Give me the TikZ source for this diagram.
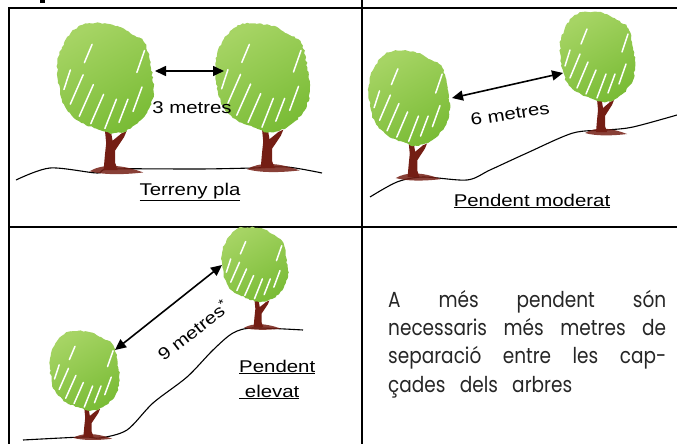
\documentclass[tikz,border=0pt]{standalone}
\usepackage{fontspec}
\setmainfont{Liberation Sans}
\newfontfamily\gothic{Poppins}
\usepackage{tikz}
\usetikzlibrary{arrows.meta,decorations.pathmorphing,positioning,calc}

\definecolor{leaflt}{RGB}{166,212,100}
\definecolor{leafdk}{RGB}{122,188,54}
\definecolor{bark}{RGB}{116,30,20}

\tikzset{
  pics/tree/.style={code={
    \fill[bark] (-5,0) -- (-4,-12) -- (-3,-22) -- (-4,-33) -- (0,-36) -- (2,-24) -- (9,-30) -- (13,-32) -- (11,-27) -- (4,-16) -- (4,-6) -- (6,0) -- cycle;
    \fill[bark,opacity=.85] (-16,1) .. controls (-6,-5) and (8,-5) .. (26,2) .. controls (10,4) and (-6,4) .. (-16,1) -- cycle;
    \shade[top color=leaflt,bottom color=leafdk,shading angle=30,decorate,decoration={random steps,segment length=2.5pt,amplitude=.8pt}]
      plot[smooth cycle,tension=.6] coordinates {(-28,-115) (-18,-120) (2,-119) (16,-112) (27,-104) (32,-84) (34,-64) (29,-47) (16,-34) (2,-30) (-11,-34) (-24,-40) (-34,-50) (-39,-64) (-41,-87) (-36,-104)};
    \foreach \xa/\ya/\xb/\yb in {-31/-54/-21/-78,-24/-44/-13/-70,-15/-38/-5/-62,-4/-34/5/-58,7/-39/14/-58,18/-48/25/-68,21/-80/27/-98,-20/-88/-14/-103,-36/-66/-31/-82}
      \draw[white,line width=1.5pt,line cap=round] (\xa,\ya) -- (\xb,\yb);
  }},
  gap/.style={{Triangle[length=11pt,width=10pt]}-{Triangle[length=11pt,width=10pt]},line width=1.6pt},
  lbl/.style={font=\fontsize{17}{20}\selectfont,xscale=1.2,transform shape},
  para/.style={anchor=base west,inner sep=0pt,font=\gothic\fontsize{18.5}{23}\selectfont,color=black!85,yscale=1.18,transform shape}
}

\begin{document}
\begin{tikzpicture}[x=1pt,y=-1pt]
\useasboundingbox (0,0) rectangle (677,444);
\pgfmathsetseed{7}
\fill (40,0) rectangle (45,3);
\draw[line width=1.6pt] (9,444) -- (9,8) -- (677,8);
\draw[line width=1.6pt] (362,0) -- (362,444);
\draw[line width=1.6pt] (9,227) -- (677,227);

\draw[line width=1.1pt] plot[smooth] coordinates {(16,180) (50,168) (97,173) (110,169) (200,169) (253,168) (287,167) (322,173)};
\draw[line width=1.1pt] plot[smooth] coordinates {(370,197) (397,182) (423,177) (467,180) (490,170) (527,153) (573,133) (607,130) (633,127) (677,115)};
\draw[line width=1.1pt] plot[smooth] coordinates {(23,440) (83,437) (100,438) (127,430) (153,403) (187,377) (213,350) (233,333) (253,328) (303,330)};

\pic[xscale=1.28,yscale=1.22] at (110,170) {tree};
\pic[xscale=1.26,yscale=1.2] at (267,168) {tree};
\pic[xscale=1.08,yscale=1.05] at (413,177) {tree};
\pic at (601,132) {tree};
\pic[xscale=.93,yscale=.88] at (88,437) {tree};
\pic[xscale=.88,yscale=.83] at (258,327) {tree};

\coordinate (p1a) at (155,71);
\coordinate (p1b) at (224,71);
\coordinate (p2a) at (452,98);
\coordinate (p2b) at (563,73);
\coordinate (p3a) at (115,350);
\coordinate (p3b) at (222,265);
\draw[gap] (p1a) -- (p1b);
\draw[gap] (p2a) -- (p2b);
\draw[gap] (p3a) -- (p3b);

\node[lbl] (tres) at (192,108) {3 metres};
\node[lbl] (pla) at (190,192) {\underline{Terreny pla}};
\node[rotate=9,lbl] (sis) at (510,114) {6 metres};
\node[lbl] (moderat) at (532,201) {\underline{Pendent moderat}};
\node[rotate=38,lbl] (nou) at (193,330) {9 metres\textsuperscript{*}};
\node[lbl,anchor=base west,align=left] (elevat) at (235,397) {\underline{Pendent}\\[5pt]\underline{\ elevat}};

\node[para] (l1) at (388,307) {\makebox[278pt][s]{A més pendent són}};
\node[para] (l2) at (388,335) {\makebox[278pt][s]{necessaris més metres de}};
\node[para] (l3) at (388,363) {\makebox[278pt][s]{separació entre les cap-}};
\node[para] (l4) at (388,392) {\makebox[184pt][s]{çades dels arbres}};
\end{tikzpicture}
\end{document}
